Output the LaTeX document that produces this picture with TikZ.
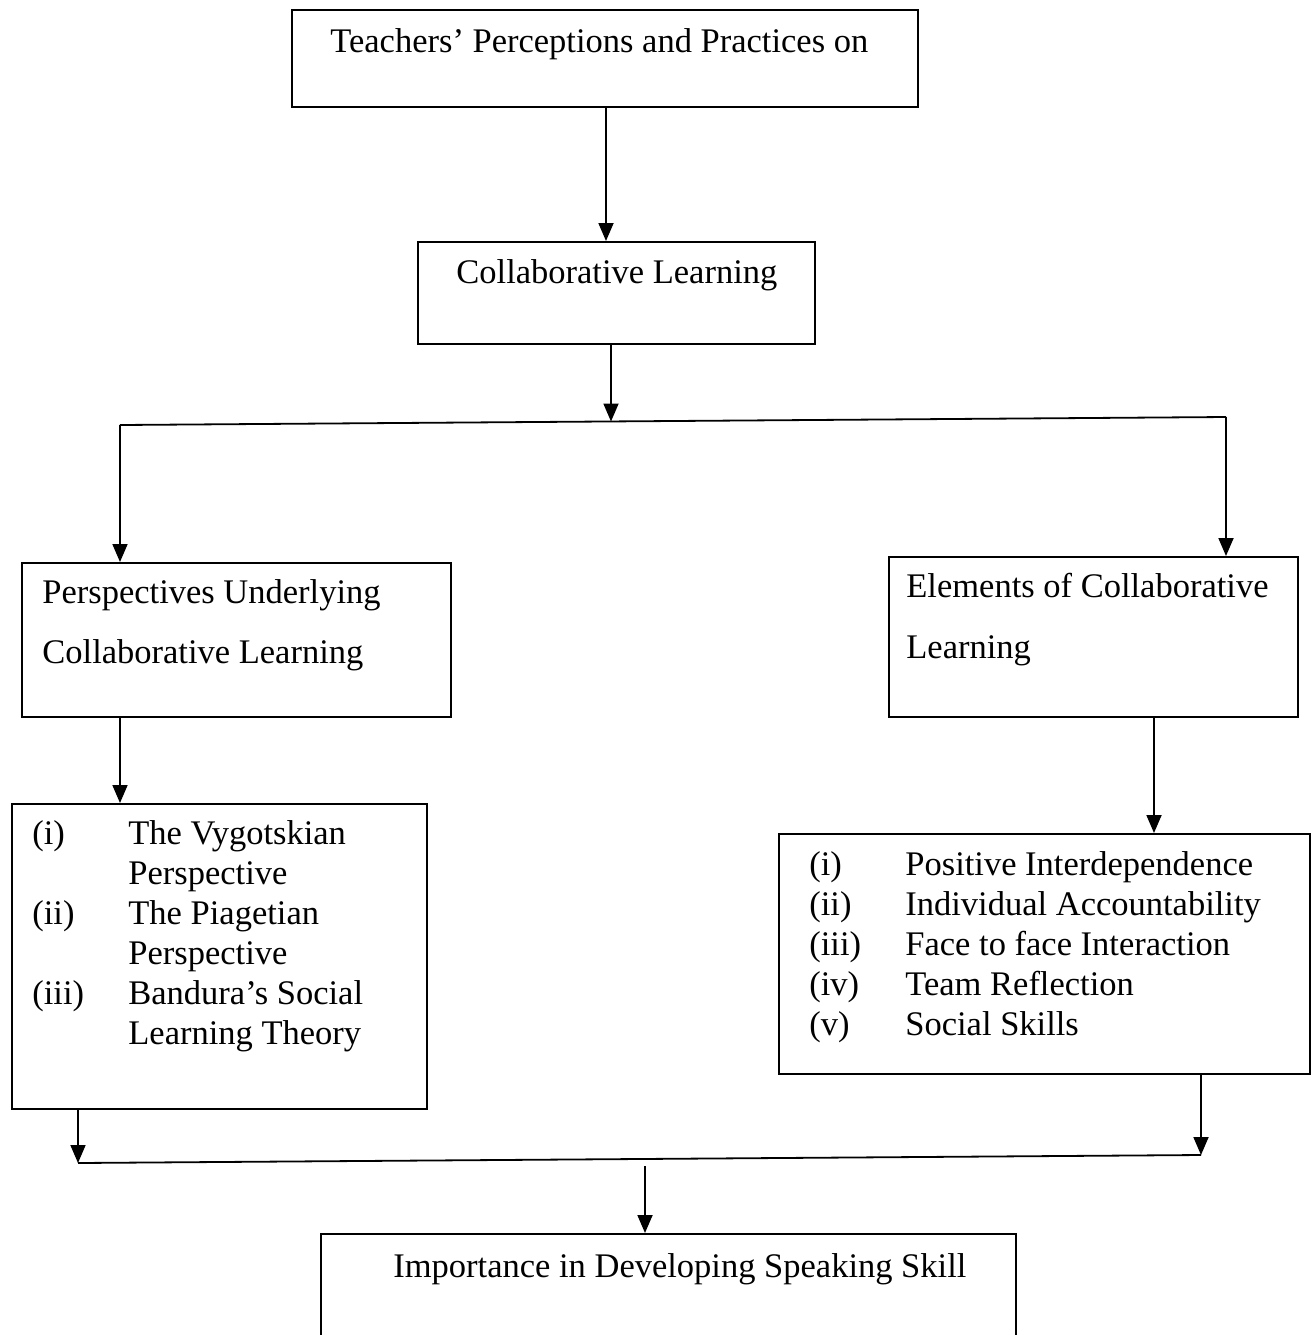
\documentclass[tikz,border=0pt]{standalone}
\usepackage{fontspec}
\setmainfont{Liberation Serif}
\usetikzlibrary{arrows.meta}
\begin{document}
\begin{tikzpicture}[x=0.5pt,y=-0.5pt,
  box/.style={draw, line width=0.9pt, rectangle, inner sep=0pt, anchor=north west},
  txt/.style={anchor=base west, inner sep=0pt, font=\fontsize{17.25pt}{20pt}\selectfont},
  arr/.style={line width=0.9pt, -{Triangle[width=7.5pt,length=9pt]}},
  ln/.style={line width=0.9pt}]
\clip (0,0) rectangle (1314,1335);
\fill[white] (0,0) rectangle (1314,1335);
% boxes
\node[box, minimum width=313pt,   minimum height=48.5pt] (b1) at (291,9) {};
\node[box, minimum width=198.5pt, minimum height=51pt]   (b2) at (417,241) {};
\node[box, minimum width=214.5pt, minimum height=77pt]   (b3) at (21,562) {};
\node[box, minimum width=204.5pt, minimum height=80pt]   (b4) at (888,556) {};
\node[box, minimum width=207.5pt, minimum height=152.5pt] (b5) at (11,803) {};
\node[box, minimum width=265.5pt, minimum height=120pt]  (b6) at (778,833) {};
\node[box, minimum width=347.5pt, minimum height=90pt]   (b7) at (320,1233) {};
% texts
\node[txt] (t1) at (330,52) {Teachers’ Perceptions and Practices on};
\node[txt] (t2) at (456,283) {Collaborative Learning};
\node[txt] (t3a) at (42,603) {Perspectives Underlying};
\node[txt] (t3b) at (42,663) {Collaborative Learning};
\node[txt] (t4a) at (906,597) {Elements of Collaborative};
\node[txt] (t4b) at (906,658) {Learning};
\node[txt] (l1) at (32,844) {(i)};
\node[txt] (l1a) at (128,844) {The Vygotskian};
\node[txt] (l1b) at (128,884) {Perspective};
\node[txt] (l2) at (32,924) {(ii)};
\node[txt] (l2a) at (128,924) {The Piagetian};
\node[txt] (l2b) at (128,964) {Perspective};
\node[txt] (l3) at (32,1004) {(iii)};
\node[txt] (l3a) at (128,1004) {Bandura’s Social};
\node[txt] (l3b) at (128,1044) {Learning Theory};
\node[txt] (r1) at (809,875) {(i)};
\node[txt] (r1a) at (905,875) {Positive Interdependence};
\node[txt] (r2) at (809,915) {(ii)};
\node[txt] (r2a) at (905,915) {Individual Accountability};
\node[txt] (r3) at (809,955) {(iii)};
\node[txt] (r3a) at (905,955) {Face to face Interaction};
\node[txt] (r4) at (809,995) {(iv)};
\node[txt] (r4a) at (905,995) {Team Reflection};
\node[txt] (r5) at (809,1035) {(v)};
\node[txt] (r5a) at (905,1035) {Social Skills};
\node[txt] (t7) at (393,1277) {Importance in Developing Speaking Skill};
% helper coordinates
\coordinate (x1) at (606,0);
\coordinate (jL) at (120,425);
\coordinate (jR) at (1226,417);
\coordinate (jM) at (611,421.5);
\coordinate (xa) at (120,0);
\coordinate (xb) at (1154,0);
\coordinate (kL) at (78,1163);
\coordinate (kR) at (1201,1155);
\coordinate (kM) at (645,1166);
% connectors
\draw[arr] (b1.south -| x1) -- (b2.north -| x1);
\draw[arr] (b2.south -| jM) -- (jM);
\draw[ln] (jL) -- (jR);
\draw[arr] (jL) -- (b3.north -| jL);
\draw[arr] (jR) -- (b4.north -| jR);
\draw[arr] (b3.south -| xa) -- (b5.north -| xa);
\draw[arr] (b4.south -| xb) -- (b6.north -| xb);
\draw[arr] (b5.south -| kL) -- (kL);
\draw[arr] (b6.south -| kR) -- (kR);
\draw[ln] (kL) -- (kR);
\draw[arr] (kM) -- (b7.north -| kM);
\end{tikzpicture}
\end{document}
